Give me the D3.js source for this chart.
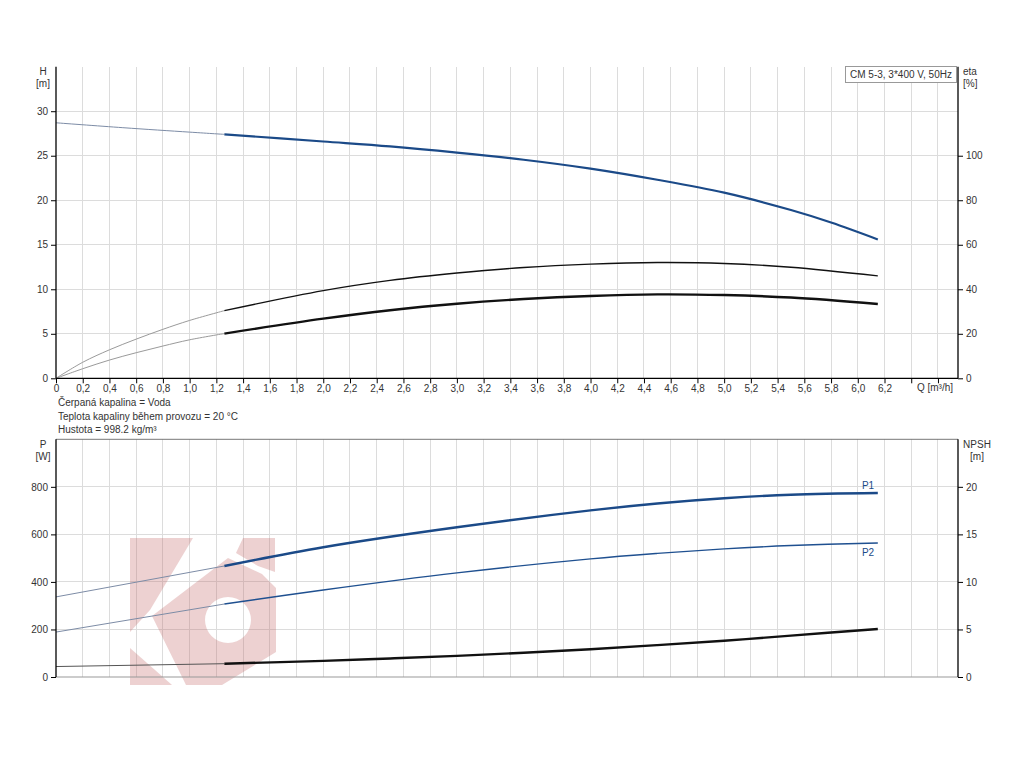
<!DOCTYPE html>
<html><head><meta charset="utf-8">
<script src="https://cdn.jsdelivr.net/npm/d3@7"></script>
<style>
body{margin:0;background:#fff;}
svg{display:block;font-family:"Liberation Sans",Arial,sans-serif;}
text{fill:#333;font-size:10px;}
</style></head><body>
<svg id="c" width="1024" height="768"></svg>
<script>
// ---------- data ----------
const qTicks = [0,0.2,0.4,0.6,0.8,1.0,1.2,1.4,1.6,1.8,2.0,2.2,2.4,2.6,2.8,3.0,3.2,3.4,3.6,3.8,4.0,4.2,4.4,4.6,4.8,5.0,5.2,5.4,5.6,5.8,6.0,6.2,6.4,6.6];
const qLabelled = [0,0.2,0.4,0.6,0.8,1.0,1.2,1.4,1.6,1.8,2.0,2.2,2.4,2.6,2.8,3.0,3.2,3.4,3.6,3.8,4.0,4.2,4.4,4.6,4.8,5.0,5.2,5.4,5.6,5.8,6.0,6.2];
const hTicks = [0,5,10,15,20,25,30];
const etaTicks = [0,20,40,60,80,100];
const pTicks = [0,200,400,600,800];
const npshTicks = [0,5,10,15,20];
const qStart = 1.26; // start of operating range (thick part)

// head curve H [m]
const hQ   = [0, 0.5, 1.0, 1.26, 2.0, 2.5, 3.0, 3.5, 4.0, 4.5, 5.0, 5.5, 5.8, 6.15];
const hVal = [28.7, 28.15, 27.65, 27.4, 26.6, 26.05, 25.35, 24.55, 23.55, 22.3, 20.85, 18.9, 17.5, 15.6];

// efficiency curves eta [%]
const etaQ  = [0, 0.2, 0.4, 0.6, 0.8, 1.0, 1.26, 2.0, 2.5, 3.0, 3.5, 4.0, 4.5, 5.0, 5.5, 6.15];
const etaA  = [0, 7.2, 12.8, 17.6, 22.0, 26.0, 30.4, 39.4, 44.0, 47.3, 49.8, 51.3, 52.0, 51.6, 49.9, 46.0];
const etaB  = [0, 4.3, 8.2, 11.5, 14.5, 17.3, 20.1, 26.8, 30.6, 33.5, 35.6, 37.0, 37.7, 37.4, 36.3, 33.4];

// power curves P [W]
const pQ  = [0, 1.26, 2.0, 3.0, 4.0, 4.5, 5.0, 5.5, 6.15];
const p1  = [337, 467, 546, 630, 701, 730, 752, 767, 774];
const p2  = [189, 307, 366, 438, 497, 520, 539, 553, 564];

// NPSH [m]
const nQ   = [0, 1.26, 2.0, 2.5, 3.0, 3.5, 4.0, 4.5, 5.0, 5.5, 6.15];
const npsh = [1.1, 1.4, 1.7, 1.95, 2.22, 2.55, 2.92, 3.35, 3.82, 4.35, 5.05];

const infoLines = ["Čerpaná kapalina = Voda","Teplota kapaliny během provozu = 20 °C","Hustota = 998.2 kg/m³"];
const legendText = "CM 5-3, 3*400 V, 50Hz";

// ---------- drawing ----------
const svg = d3.select("#c");
const L = 56, R = 958;
const x = d3.scaleLinear([0, 6.75], [L, R]);
const yH = d3.scaleLinear([0, 35], [378.3, 66.7]);
const yEta = d3.scaleLinear([0, 140], [378.3, 66.7]);
const yP = d3.scaleLinear([0, 1000], [677, 439.3]);
const yN = d3.scaleLinear([0, 25], [677, 439.3]);
const fmtQ = v => v === 0 ? "0" : d3.format(".1f")(v).replace(".", ",");
const gridC = "#dcdcdc";

function grid(yScale, yVals, top, bottom) {
  const g = svg.append("g");
  g.selectAll("line.v").data(qTicks.filter(d => d > 0)).join("line")
    .attr("x1", d => x(d)).attr("x2", d => x(d)).attr("y1", top).attr("y2", bottom)
    .attr("stroke", gridC).attr("stroke-width", 1).attr("shape-rendering","crispEdges");
  g.selectAll("line.h").data(yVals.filter(d => d > 0)).join("line")
    .attr("x1", L).attr("x2", R).attr("y1", d => yScale(d)).attr("y2", d => yScale(d))
    .attr("stroke", gridC).attr("stroke-width", 1).attr("shape-rendering","crispEdges");
}
grid(yH, hTicks, yH(35), yH(0));
grid(yP, pTicks, yP(1000), yP(0));

// watermark
const wm = svg.append("g").attr("fill", "#c46a6a").attr("opacity", 0.3);
wm.append("path").attr("d", "M130,538 L193,538 L150,610 L130,632 Z");
wm.append("path").attr("d", "M130,648 L172,685 L130,685 Z");
wm.append("path").attr("d", "M243,538 L275,538 L275,572 L258,566 L236,553 Z");
wm.append("path").attr("fill-rule","evenodd")
  .attr("d", "M152,616 L228,558 L262,574 L276,588 L276,652 L222,685 L186,685 Z " +
             "M228,620 m-23,0 a23,23 0 1,0 46,0 a23,23 0 1,0 -46,0 Z");

// curves
function drawCurve(xs, ys, yScale, thinColor, thickColor, thickW) {
  const pts = xs.map((q, i) => [q, ys[i]]);
  const line = d3.line().x(d => x(d[0])).y(d => yScale(d[1])).curve(d3.curveCatmullRom.alpha(0.5));
  const thin = pts.filter(d => d[0] <= qStart);
  const thick = pts.filter(d => d[0] >= qStart);
  svg.append("path").attr("d", line(thin)).attr("fill", "none")
    .attr("stroke", thinColor).attr("stroke-width", 1);
  svg.append("path").attr("d", line(thick)).attr("fill", "none")
    .attr("stroke", thickColor).attr("stroke-width", thickW).attr("stroke-linecap","butt");
}
drawCurve(hQ, hVal, yH, "#7d8ca6", "#1b4a88", 2.2);
drawCurve(etaQ, etaA, yEta, "#9a9a9a", "#111", 1.4);
drawCurve(etaQ, etaB, yEta, "#9a9a9a", "#111", 2.4);
drawCurve(pQ, p1, yP, "#7d8ca6", "#1b4a88", 2.4);
drawCurve(pQ, p2, yP, "#7d8ca6", "#1f5090", 1.4);
drawCurve(nQ, npsh, yN, "#555", "#111", 2.4);

// axes
function styleAxis(g) {
  g.select(".domain").remove();
  g.selectAll(".tick line").attr("stroke", "#000");
  g.selectAll(".tick text").attr("fill", "#333").style("font-size", "10px")
    .style("font-family", "'Liberation Sans',Arial,sans-serif");
}
// top chart
svg.append("g").attr("transform", `translate(${L},0)`)
  .call(d3.axisLeft(yH).tickValues(hTicks).tickSize(5).tickPadding(3)).call(styleAxis);
svg.append("g").attr("transform", `translate(${R},0)`)
  .call(d3.axisRight(yEta).tickValues(etaTicks).tickSize(5).tickPadding(3)).call(styleAxis);
svg.append("g").attr("transform", `translate(0,${yH(0)})`)
  .call(d3.axisBottom(x).tickValues(qTicks).tickSize(5).tickPadding(2)
    .tickFormat(d => qLabelled.includes(d) ? fmtQ(d) : "")).call(styleAxis);
svg.append("line").attr("x1", L).attr("x2", L).attr("y1", yH(35)).attr("y2", yH(0)).attr("stroke", "#000").attr("stroke-width", 1.3);
svg.append("line").attr("x1", R).attr("x2", R).attr("y1", yH(35)).attr("y2", yH(0)).attr("stroke", "#000").attr("stroke-width", 1.3);
svg.append("line").attr("x1", L).attr("x2", R).attr("y1", yH(0)).attr("y2", yH(0)).attr("stroke", "#000").attr("stroke-width", 1.3);
svg.append("text").attr("x", x(6.6) - 3).attr("y", 391).attr("text-anchor", "middle").text("Q [m³/h]");

// bottom chart
svg.append("g").attr("transform", `translate(${L},0)`)
  .call(d3.axisLeft(yP).tickValues(pTicks).tickSize(5).tickPadding(3)).call(styleAxis);
svg.append("g").attr("transform", `translate(${R},0)`)
  .call(d3.axisRight(yN).tickValues(npshTicks).tickSize(5).tickPadding(3)).call(styleAxis);
svg.append("line").attr("x1", L).attr("x2", R).attr("y1", yP(1000)).attr("y2", yP(1000)).attr("stroke", "#777");
svg.append("line").attr("x1", L).attr("x2", R).attr("y1", yP(0)).attr("y2", yP(0)).attr("stroke", "#999");
svg.append("line").attr("x1", L).attr("x2", L).attr("y1", yP(1000)).attr("y2", yP(0)).attr("stroke", "#000").attr("stroke-width", 1.3);
svg.append("line").attr("x1", R).attr("x2", R).attr("y1", yP(1000)).attr("y2", yP(0)).attr("stroke", "#000").attr("stroke-width", 1.3);

// axis titles
function title(x0, y0, lines, anchor) {
  lines.forEach((t, i) => svg.append("text").attr("x", x0).attr("y", y0 + i * 12).attr("text-anchor", anchor).text(t));
}
title(43, 75, ["H", "[m]"], "middle");
title(963, 75, ["eta", "[%]"], "start");
title(43, 448, ["P", "[W]"], "middle");
title(977, 448, ["NPSH", "[m]"], "middle");

// curve labels
svg.append("text").attr("x", 868).attr("y", yP(p1[p1.length - 1]) - 4).attr("text-anchor", "middle").style("fill","#1b4a88").text("P1");
svg.append("text").attr("x", 868).attr("y", yP(p2[p2.length - 1]) + 13).attr("text-anchor", "middle").style("fill","#1b4a88").text("P2");

// legend box
svg.append("rect").attr("x", 845.5).attr("y", 66.5).attr("width", 111).attr("height", 16)
  .attr("fill", "#fff").attr("stroke", "#999");
svg.append("text").attr("x", 901).attr("y", 78).attr("text-anchor", "middle").text(legendText);

// info text
infoLines.forEach((t, i) => svg.append("text").attr("x", 58).attr("y", 406 + i * 13.5).text(t));
</script>
</body></html>
